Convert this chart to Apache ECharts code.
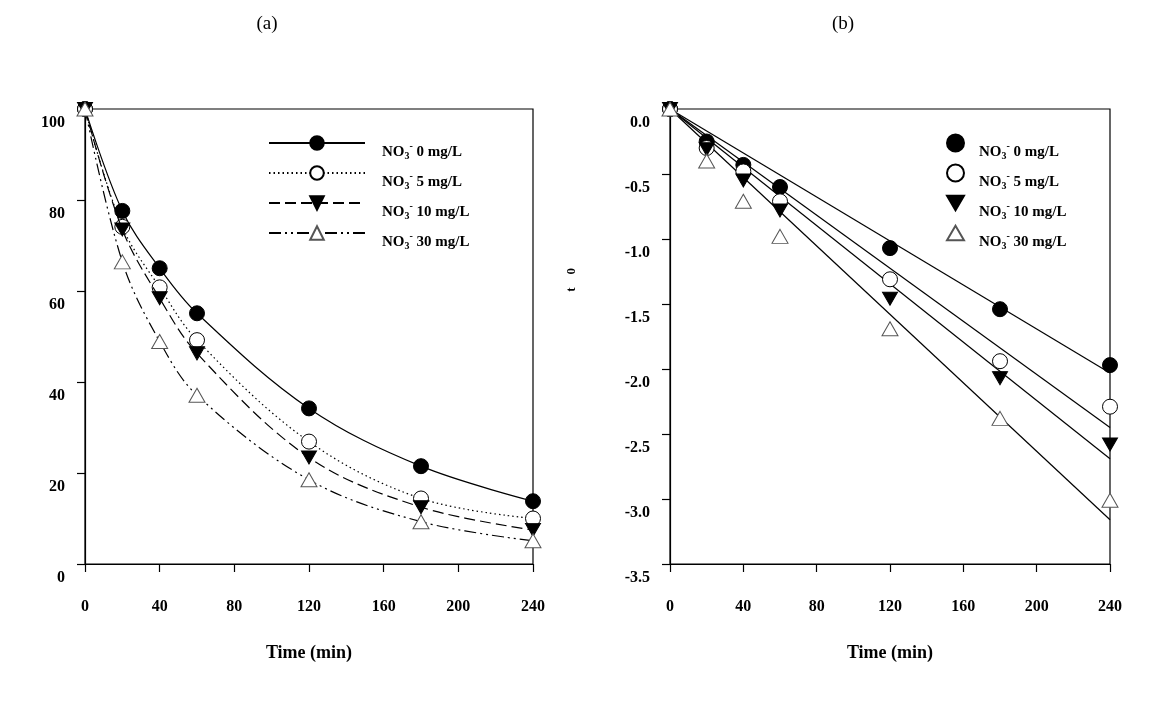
<!DOCTYPE html>
<html>
<head>
<meta charset="utf-8">
<script src="https://cdn.jsdelivr.net/npm/echarts@6/dist/echarts.min.js"></script>
<style>html,body{margin:0;padding:0;background:#fff}#c{width:1154px;height:704px}</style>
</head>
<body>
<div id="c"></div>
<script>
// ---- data ----
const times = [0, 20, 40, 60, 120, 180, 240];
const concLabels = ['0', '5', '10', '30'];
// panel (a): remaining (%)
const pctNO0  = [100, 77.6, 65.0, 55.1, 34.2, 21.5, 13.8];
const pctNO5  = [100, 74.1, 60.8, 49.2, 26.9, 14.4, 10.0];
const pctNO10 = [100, 73.5, 58.4, 46.3, 23.4, 12.5, 7.5];
const pctNO30 = [100, 66.4, 48.9, 37.1, 18.5, 9.3, 5.1];
// panel (b): ln(C/C0)
const lnNO0  = [0, -0.25, -0.43, -0.60, -1.07, -1.54, -1.97];
const lnNO5  = [0, -0.30, -0.48, -0.71, -1.31, -1.94, -2.29];
const lnNO10 = [0, -0.31, -0.55, -0.78, -1.46, -2.07, -2.58];
const lnNO30 = [0, -0.40, -0.71, -0.98, -1.69, -2.38, -3.01];
// linear fits (panel b)
const fitTimes = [0, 240];
const fitNO0  = [0, -2.03];
const fitNO5  = [0, -2.45];
const fitNO10 = [0, -2.69];
const fitNO30 = [0, -3.16];
const panelTitles = ['(a)', '(b)'];
const xAxisName = 'Time (min)';

// ---- build ----
const pair = (xs, ys) => xs.map((x, i) => [x, ys[i]]);
const serif = "'Liberation Serif', 'DejaVu Serif', serif";
const pctSets = [pctNO0, pctNO5, pctNO10, pctNO30];
const lnSets = [lnNO0, lnNO5, lnNO10, lnNO30];
const fitSets = [fitNO0, fitNO5, fitNO10, fitNO30];

const downTri = 'path://M0,0 L20,0 L10,17.32 Z';
const upTri = 'path://M10,0 L20,17.32 L0,17.32 Z';
const markers = [
  { symbol: 'circle', size: 15, itemStyle: { color: '#000', borderColor: '#000', borderWidth: 1, opacity: 1 } },
  { symbol: 'circle', size: 15, itemStyle: { color: '#fff', borderColor: '#000', borderWidth: 1, opacity: 1 } },
  { symbol: downTri, size: [15, 13], itemStyle: { color: '#000', borderColor: '#000', borderWidth: 1, opacity: 1 } },
  { symbol: upTri, size: [16, 14], itemStyle: { color: '#fff', borderColor: '#555', borderWidth: 1, opacity: 1 } }
];
const dashTypes = ['solid', [1.5, 3], [11, 5], [12, 4, 2, 4, 2, 4]];

const rich = {
  n: { fontFamily: serif, fontWeight: 'bold', fontSize: 15, color: '#000', lineHeight: 12 },
  s: { fontFamily: serif, fontWeight: 'bold', fontSize: 10, color: '#000', padding: [8, 0, 0, 0], lineHeight: 12 },
  p: { fontFamily: serif, fontWeight: 'bold', fontSize: 10, color: '#000', padding: [0, 0, 12, 0], lineHeight: 12 }
};
const legendFmt = name => {
  const idx = Number(name.slice(1));
  return '{n|NO}{s|3}{p|-}{n| ' + concLabels[idx] + ' mg/L}';
};

const series = [];
pctSets.forEach((d, i) => {
  series.push({
    name: 'a' + i, type: 'line', xAxisIndex: 0, yAxisIndex: 0,
    data: pair(times, d), smooth: 0.35,
    symbol: markers[i].symbol, symbolSize: markers[i].size,
    itemStyle: markers[i].itemStyle,
    lineStyle: { color: '#000', width: 1.2, type: dashTypes[i] },
    z: 3 + i
  });
});
fitSets.forEach((d, i) => {
  series.push({
    name: 'f' + i, type: 'line', xAxisIndex: 1, yAxisIndex: 1,
    data: pair(fitTimes, d), symbol: 'none', silent: true,
    lineStyle: { color: '#000', width: 1.2 }, z: 2
  });
});
lnSets.forEach((d, i) => {
  series.push({
    name: 'b' + i, type: 'scatter', xAxisIndex: 1, yAxisIndex: 1,
    data: pair(times, d),
    symbol: markers[i].symbol, symbolSize: markers[i].size,
    itemStyle: markers[i].itemStyle, z: 5 + i
  });
});

const axisLabelStyle = { fontFamily: serif, fontWeight: 'bold', fontSize: 16, color: '#000' };
const mkX = (gi) => ({
  type: 'value', gridIndex: gi, min: 0, max: 240, interval: 40,
  axisLine: { show: true, onZero: false, lineStyle: { color: '#000', width: 1.2 } },
  axisTick: { show: true, inside: false, length: 8, lineStyle: { color: '#000', width: 1.2 } },
  axisLabel: Object.assign({ margin: 35 }, axisLabelStyle),
  splitLine: { show: false },
  name: xAxisName, nameLocation: 'middle', nameGap: 80,
  nameTextStyle: { fontFamily: serif, fontWeight: 'bold', fontSize: 18, color: '#000' }
});
const mkY = (gi, min, max, interval, fmt) => ({
  type: 'value', gridIndex: gi, min: min, max: max, interval: interval,
  axisLine: { show: true, onZero: false, lineStyle: { color: '#000', width: 1.2 } },
  axisTick: { show: true, inside: false, length: 8, lineStyle: { color: '#000', width: 1.2 } },
  axisLabel: Object.assign({ margin: 20, verticalAlign: 'top', padding: [6, 0, 0, 0], formatter: fmt }, axisLabelStyle),
  splitLine: { show: false }
});

const option = {
  backgroundColor: '#fff',
  animation: false,
  title: [
    { text: panelTitles[0], left: 262, top: 10, textAlign: 'center',
      textStyle: { fontFamily: serif, fontWeight: 'normal', fontSize: 19, color: '#000' } },
    { text: panelTitles[1], left: 838, top: 10, textAlign: 'center',
      textStyle: { fontFamily: serif, fontWeight: 'normal', fontSize: 19, color: '#000' } }
  ],
  grid: [
    { left: 85, top: 109, width: 448, height: 455, show: true, borderColor: '#000', borderWidth: 1.2, backgroundColor: 'transparent' },
    { left: 670, top: 109, width: 440, height: 455, show: true, borderColor: '#000', borderWidth: 1.2, backgroundColor: 'transparent' }
  ],
  xAxis: [mkX(0), mkX(1)],
  yAxis: [
    mkY(0, 0, 100, 20, v => String(v)),
    mkY(1, -3.5, 0, 0.5, v => v.toFixed(1))
  ],
  legend: [
    {
      data: ['a0', 'a1', 'a2', 'a3'], orient: 'vertical', left: 263, top: 123,
      itemWidth: 96, itemHeight: 17, itemGap: -5, selectedMode: false,
      formatter: legendFmt,
      textStyle: { padding: [18, 0, 0, 12], rich: rich, lineHeight: 12 }
    },
    {
      data: ['b0', 'b1', 'b2', 'b3'], orient: 'vertical', left: 941, top: 123,
      itemWidth: 17, itemHeight: 17, itemGap: -5, selectedMode: false,
      formatter: legendFmt,
      textStyle: { padding: [18, 0, 0, 10], rich: rich, lineHeight: 12 }
    }
  ],
  graphic: [
    { type: 'text', left: 565, top: 268, rotation: Math.PI / 2,
      style: { text: 't    0', font: "bold 13px 'Liberation Serif'", fill: '#000' } }
  ],
  series: series
};

const chart = echarts.init(document.getElementById('c'), null, { renderer: 'canvas' });
chart.setOption(option);
</script>
</body>
</html>
